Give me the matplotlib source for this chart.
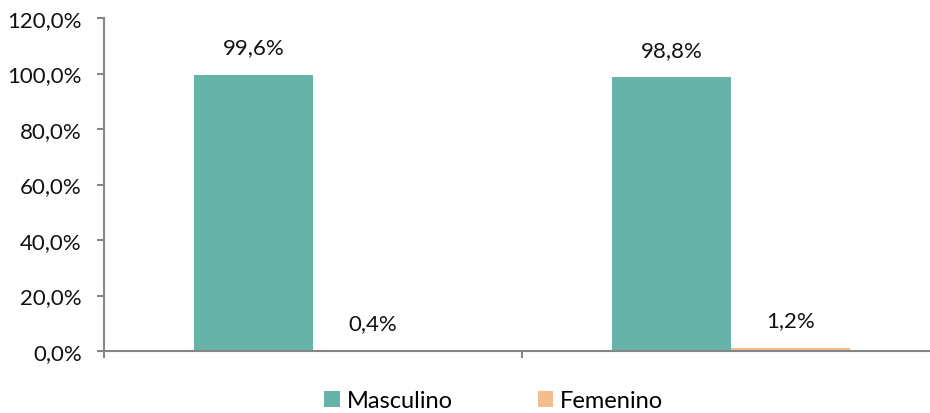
import matplotlib.pyplot as plt
import numpy as np

plt.rcParams['font.family'] = ['Lato', 'DejaVu Sans']

# data
grupos = ['Grupo 1', 'Grupo 2']
masculino = [99.6, 98.8]
femenino = [0.4, 1.2]
serie_nombres = ['Masculino', 'Femenino']
colores = ['#66B3A7', '#F4BD8E']

fig = plt.figure(figsize=(9.3, 4.14), dpi=100)
ax = fig.add_axes([104 / 930, 62 / 414, 836 / 930, 333 / 414])

x = np.arange(len(grupos))
w = 0.285
b1 = ax.bar(x - w / 2, masculino, w, color=colores[0], label=serie_nombres[0])
b2 = ax.bar(x + w / 2, femenino, w, color=colores[1], label=serie_nombres[1])

for bars, vals in ((b1, masculino), (b2, femenino)):
    for r, v in zip(bars, vals):
        ax.annotate(('%.1f%%' % v).replace('.', ','),
                    (r.get_x() + r.get_width() / 2, v),
                    xytext=(0, 19.5), textcoords='offset points',
                    ha='center', va='center', fontsize=16, color='#111111')

ax.set_xlim(-0.5, 1.5)
ax.set_ylim(0, 120)
ax.set_yticks(np.arange(0, 121, 20))
ax.set_yticklabels([('%.1f%%' % t).replace('.', ',') for t in np.arange(0, 121, 20)])
ax.set_xticks([-0.5, 0.5, 1.5])
ax.set_xticklabels([])

for s in ['top', 'right']:
    ax.spines[s].set_visible(False)
for s in ['left', 'bottom']:
    ax.spines[s].set_color('#868686')
    ax.spines[s].set_linewidth(1.5)
ax.tick_params(axis='y', direction='out', length=5, width=1.5, color='#868686',
               labelsize=16, pad=11, labelcolor='#111111')
ax.tick_params(axis='x', direction='out', length=5, width=1.5, color='#868686')

fig.legend(handles=[b1, b2], labels=serie_nombres, loc='center',
           bbox_to_anchor=(0.531, 12 / 414), ncol=2, frameon=False,
           fontsize=17, handlelength=0.65, handleheight=0.65,
           handletextpad=0.3, columnspacing=3.6)

fig.savefig('out.png', dpi=100)
